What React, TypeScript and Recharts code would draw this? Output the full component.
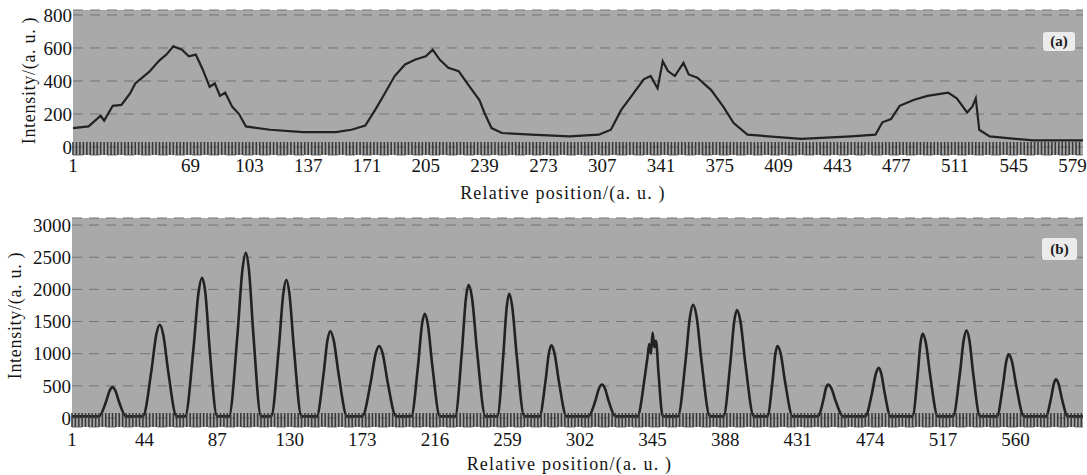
import { LineChart, Line, XAxis, YAxis, CartesianGrid } from 'recharts';

const serif = '"Liberation Serif", "DejaVu Serif", serif';

// panel (a): broad humps
const xTicksA = [1, 69, 103, 137, 171, 205, 239, 273, 307, 341, 375, 409, 443, 477, 511, 545, 579];
const yTicksA = [0, 200, 400, 600, 800];
const profileA: [number, number][] = [
  [1, 115], [10, 125], [17, 190], [19, 160], [24, 250], [29, 255], [34, 325], [37, 385],
  [45, 455], [51, 525], [55, 560], [59, 610], [64, 590], [68, 550], [72, 560], [76, 470],
  [80, 365], [83, 385], [86, 310], [89, 330], [93, 245], [97, 200], [101, 125], [115, 105],
  [134, 90], [153, 90], [162, 105], [170, 130], [176, 230], [181, 320], [187, 430], [193, 500],
  [199, 530], [205, 550], [209, 590], [213, 530], [218, 480], [224, 460], [230, 370], [236, 285],
  [239, 205], [243, 115], [249, 85], [266, 75], [288, 65], [305, 75], [312, 105], [318, 225],
  [324, 310], [331, 410], [335, 430], [339, 355], [342, 520], [345, 460], [349, 430], [354, 510],
  [357, 440], [362, 420], [370, 345], [377, 245], [383, 145], [391, 75], [422, 50], [451, 65],
  [465, 75], [469, 150], [474, 170], [479, 250], [487, 285], [495, 310], [507, 330], [512, 295],
  [518, 210], [521, 245], [523, 295], [525, 105], [531, 65], [556, 40], [585, 40],
];

// panel (b): 22 narrow peaks
const xTicksB = [1, 44, 87, 130, 173, 216, 259, 302, 345, 388, 431, 474, 517, 560];
const yTicksB = [0, 500, 1000, 1500, 2000, 2500, 3000];
const profileB: [number, number][] = [
  [1, 25],
  [17, 25], [21, 240], [23.4, 430], [25, 480], [26.6, 430], [29, 240], [33, 25],
  [43, 25], [48, 725], [51, 1305], [53, 1450], [55, 1305], [58, 725], [63, 25],
  [68, 25], [73, 1090], [76, 1960], [78, 2180], [80, 1950], [82.5, 1090], [87, 25],
  [94, 25], [99, 1285], [102, 2310], [104, 2570], [105.8, 2310], [108.5, 1285], [113, 25],
  [119, 25], [123.5, 1075], [126.2, 1935], [128, 2150], [129.8, 1935], [132.5, 1075], [137, 25],
  [146, 25], [150, 675], [152.4, 1215], [154, 1350], [156, 1215], [159, 675], [164, 25],
  [173, 25], [178, 560], [181, 1010], [183, 1120], [185, 1010], [188, 560], [193, 25],
  [202, 25], [206, 810], [208.4, 1460], [210, 1620], [211.8, 1460], [214.5, 810], [219, 25],
  [228, 25], [232, 1035], [234.4, 1865], [236, 2070], [238, 1865], [241, 1035], [246, 25],
  [253, 25], [256.5, 965], [258.6, 1735], [260, 1930], [261.8, 1735], [264.5, 965], [269, 25],
  [278, 25], [281.5, 565], [283.6, 1015], [285, 1130], [286.8, 1015], [289.5, 565], [294, 25],
  [307, 25], [311, 260], [313.4, 470], [315, 520], [316.6, 470], [319, 260], [323, 25],
  [336, 25], [340.5, 665], [342, 950], [343, 1150], [344, 1000], [345, 1330], [346, 1100], [347, 1200], [348.5, 700], [351, 25],
  [360, 25], [364.5, 880], [367.2, 1585], [369, 1760], [371, 1585], [374, 880], [379, 25],
  [387, 25], [391, 840], [393.4, 1510], [395, 1680], [397, 1510], [400, 840], [405, 25],
  [413, 25], [416, 560], [417.8, 1010], [419, 1120], [420.8, 1010], [423.5, 560], [428, 25],
  [443, 25], [446, 260], [447.8, 470], [449, 520], [450.8, 470], [453.5, 260], [458, 25],
  [471, 25], [475, 390], [477.4, 700], [479, 780], [480.4, 700], [482.5, 390], [486, 25],
  [499, 25], [502, 655], [503.8, 1180], [505, 1310], [506.8, 1180], [509.5, 655], [514, 25],
  [523, 25], [527, 680], [529.4, 1225], [531, 1360], [532.6, 1225], [535, 680], [539, 25],
  [549, 25], [552.5, 495], [554.6, 890], [556, 990], [557.8, 890], [560.5, 495], [565, 25],
  [578, 25], [581, 300], [582.8, 540], [584, 600], [585.4, 540], [587.5, 300], [591, 25],
  [600, 25],
];

const dataA = profileA.map(([pos, intensity]) => ({ pos, intensity }));
const dataB = profileB.map(([pos, intensity]) => ({ pos, intensity }));

// dense little ticks along the bottom of each plot (the scanned ruler band)
const minorTicks = (max: number) => Array.from({ length: Math.floor(max / 2) }, (_, i) => 1 + i * 2);

const NoLabel = () => <g />;

type PanelProps = {
  data: { pos: number; intensity: number }[];
  xTicks: number[];
  yTicks: number[];
  xDomain: [number, number];
  yDomain: [number, number];
  top: number;
  height: number;
  marginTop: number;
  yAxisWidth: number;
  xAxisHeight: number;
  tickGap: number;
  bandSize: number;
  titleDx: number;
  titleOffset: number;
  yTitleDx: number;
  yTitleDy: number;
  lineWidth: number;
  curve: 'linear' | 'monotone';
  tag: string;
  tagBox: { left: number; top: number; width: number; height: number };
};

function Panel(p: PanelProps) {
  const tickStyle = { fontSize: 19, fontFamily: serif, fill: '#141414' };
  return (
    <div style={{ position: 'absolute', left: 0, top: p.top, width: 1087, height: p.height }}>
      <LineChart
        width={1087}
        height={p.height}
        data={p.data}
        margin={{ top: p.marginTop, right: 4, bottom: 0, left: 0 }}
      >
        <CartesianGrid
          vertical={false}
          fill="#a9a9a9"
          fillOpacity={1}
          stroke="#737373"
          strokeDasharray="10 7"
        />
        <XAxis
          dataKey="pos"
          type="number"
          domain={p.xDomain}
          ticks={p.xTicks}
          interval={0}
          allowDataOverflow
          axisLine={false}
          tickLine={false}
          tickSize={0}
          tickMargin={p.tickGap}
          height={p.xAxisHeight}
          tick={tickStyle}
          label={{
            value: 'Relative position/(a. u. )',
            position: 'insideBottom',
            offset: p.titleOffset,
            dx: p.titleDx,
            style: { fontSize: 18, letterSpacing: 1.2, fontFamily: serif, fill: '#141414' },
          }}
        />
        <XAxis
          xAxisId="band"
          dataKey="pos"
          type="number"
          domain={p.xDomain}
          ticks={minorTicks(p.xDomain[1])}
          interval={0}
          allowDataOverflow
          mirror
          height={p.bandSize}
          axisLine={false}
          tick={NoLabel}
          tickSize={p.bandSize}
          tickLine={{ stroke: '#3a3a3a', strokeWidth: 1.6 }}
        />
        <YAxis
          type="number"
          domain={p.yDomain}
          ticks={p.yTicks}
          interval={0}
          allowDataOverflow
          width={p.yAxisWidth}
          axisLine={false}
          tickLine={false}
          tickSize={0}
          tickMargin={1}
          tick={tickStyle}
          label={{
            value: 'Intensity/(a. u. )',
            angle: -90,
            position: 'center',
            dx: p.yTitleDx,
            dy: p.yTitleDy,
            style: { fontSize: 18, letterSpacing: 0.7, fontFamily: serif, fill: '#141414', textAnchor: 'middle' },
          }}
        />
        <Line
          type={p.curve}
          dataKey="intensity"
          stroke="#222"
          strokeWidth={p.lineWidth}
          dot={false}
          isAnimationActive={false}
        />
      </LineChart>
      <div
        style={{
          position: 'absolute',
          left: p.tagBox.left,
          top: p.tagBox.top - p.top,
          width: p.tagBox.width,
          height: p.tagBox.height,
          background: '#ebebeb',
          borderRadius: 3,
          fontFamily: serif,
          fontWeight: 'bold',
          fontSize: 15,
          lineHeight: `${p.tagBox.height}px`,
          textAlign: 'center',
          color: '#1a1a1a',
        }}
      >
        {p.tag}
      </div>
    </div>
  );
}

export default function App() {
  return (
    <div style={{ position: 'absolute', left: 0, top: 0, width: 1087, height: 475, background: '#fff' }}>
      <Panel
        data={dataA}
        xTicks={xTicksA}
        yTicks={yTicksA}
        xDomain={[1, 585]}
        yDomain={[-48, 830]}
        top={0}
        height={207}
        marginTop={10}
        yAxisWidth={73}
        xAxisHeight={52}
        tickGap={4}
        bandSize={13}
        titleDx={-15}
        titleOffset={8}
        yTitleDx={-8}
        yTitleDy={-2}
        lineWidth={2.2}
        curve="linear"
        tag="(a)"
        tagBox={{ left: 1043, top: 32, width: 32, height: 19 }}
      />
      <Panel
        data={dataB}
        xTicks={xTicksB}
        yTicks={yTicksB}
        xDomain={[1, 600]}
        yDomain={[-140, 3110]}
        top={210}
        height={265}
        marginTop={8}
        yAxisWidth={72}
        xAxisHeight={48}
        tickGap={6}
        bandSize={14}
        titleDx={-8}
        titleOffset={5}
        yTitleDx={-21}
        yTitleDy={-7}
        lineWidth={2.6}
        curve="monotone"
        tag="(b)"
        tagBox={{ left: 1042, top: 238, width: 35, height: 22 }}
      />
    </div>
  );
}
